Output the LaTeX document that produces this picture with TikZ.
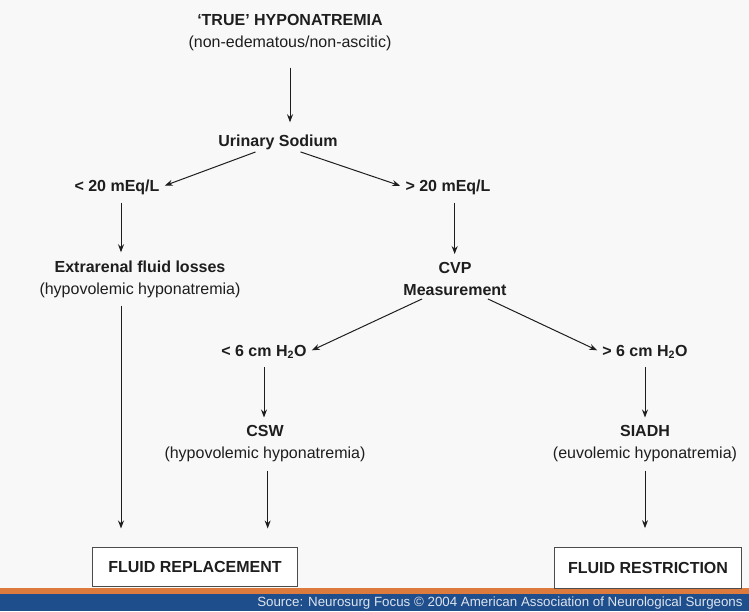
\documentclass[tikz,border=0pt]{standalone}
\usepackage{fontspec}
\setmainfont{Liberation Sans}
\usetikzlibrary{positioning,arrows.meta}
\definecolor{bgGray}{HTML}{F8F8F8}
\definecolor{barBlue}{HTML}{1F4E8C}
\definecolor{barOrange}{HTML}{DD7A3E}
\definecolor{inkGray}{HTML}{1E1E1E}

\begin{document}
\begin{tikzpicture}[x=0.75pt,y=-0.75pt,
    headStyle/.style={
        font=\fontsize{12}{16.5}\selectfont, text=inkGray, align=center, inner sep=1pt
    },
    labelStyle/.style={
        font=\fontsize{12}{14}\selectfont\bfseries, text=inkGray, inner sep=1pt
    },
    boxStyle/.style={
        rectangle, draw=gray!60!black, line width=0.8pt, fill=white,
        font=\fontsize{12}{14}\selectfont\bfseries, text=inkGray
    },
    arrowStyle/.style={-{Stealth[length=6pt,width=4.5pt]}, line width=0.75pt, draw=inkGray,
        shorten <=5pt, shorten >=5pt}
]
    % Background and footer
    \fill[bgGray] (0,0) rectangle (749,611);
    \useasboundingbox (0,0) rectangle (749,611);
    \fill[barOrange] (0,588) rectangle (749,594);
    \fill[barBlue] (0,594) rectangle (749,611);
    \node[anchor=west, inner sep=0pt, text=white!85!barBlue, font=\fontsize{10}{11}\selectfont] (src) at (257,603)
        {Source: Neurosurg Focus © 2004 American Association of Neurological Surgeons};

    % Top
    \node[headStyle] (true) at (290,33) {\textbf{`TRUE' HYPONATREMIA}\\(non-edematous/non-ascitic)};
    \node[labelStyle] (sodium) at (278,142) {Urinary Sodium};

    % Urinary sodium split
    \node[labelStyle] (low20) at (117,187) {< 20 mEq/L};
    \node[labelStyle] (high20) at (448,187) {> 20 mEq/L};

    \node[headStyle] (extra) at (140,279) {\textbf{Extrarenal fluid losses}\\(hypovolemic hyponatremia)};
    \node[headStyle] (cvp) at (455,279) {\textbf{CVP}\\\textbf{Measurement}};

    % CVP split
    \node[labelStyle] (low6) at (264,352) {< 6 cm H\textsubscript{2}O};
    \node[labelStyle] (high6) at (645,352) {> 6 cm H\textsubscript{2}O};

    \node[headStyle] (csw) at (265,444) {\textbf{CSW}\\(hypovolemic hyponatremia)};
    \node[headStyle] (siadh) at (645,444) {\textbf{SIADH}\\(euvolemic hyponatremia)};

    % Treatment
    \node[boxStyle, minimum width=154pt, minimum height=29pt] (replace) at (195,567) {FLUID REPLACEMENT};
    \node[boxStyle, minimum width=140pt, minimum height=31pt] (restrict) at (648,568) {FLUID RESTRICTION};

    % Arrows
    \draw[arrowStyle, shorten <=11pt, shorten >=8pt] (true.south |- true.south) -- (true.south |- sodium.north);
    \draw[arrowStyle, shorten <=2pt, shorten >=3pt] ([xshift=-15pt]sodium.south) -- (low20.east);
    \draw[arrowStyle, shorten <=2pt, shorten >=3pt] ([xshift=15pt]sodium.south) -- (high20.west);
    \draw[arrowStyle] ([xshift=3pt]low20.south) -- ([xshift=3pt]low20.south |- extra.north);
    \draw[arrowStyle] ([xshift=5pt]high20.south) -- ([xshift=5pt]high20.south |- cvp.north);
    \draw[arrowStyle, shorten <=3pt, shorten >=3pt] ([xshift=-22pt]cvp.south) -- (low6.east);
    \draw[arrowStyle, shorten <=3pt, shorten >=3pt] ([xshift=22pt]cvp.south) -- (high6.west);
    \draw[arrowStyle] (low6.south) -- (low6.south |- csw.north);
    \draw[arrowStyle] (high6.south) -- (high6.south |- siadh.north);
    \draw[arrowStyle, shorten >=14pt] ([xshift=3pt]low20.south |- extra.south) -- ([xshift=3pt]low20.south |- replace.north);
    \draw[arrowStyle, shorten >=14pt] ([xshift=2pt]csw.south) -- ([xshift=2pt]csw.south |- replace.north);
    \draw[arrowStyle, shorten >=14pt] (siadh.south) -- (siadh.south |- restrict.north);
\end{tikzpicture}
\end{document}
